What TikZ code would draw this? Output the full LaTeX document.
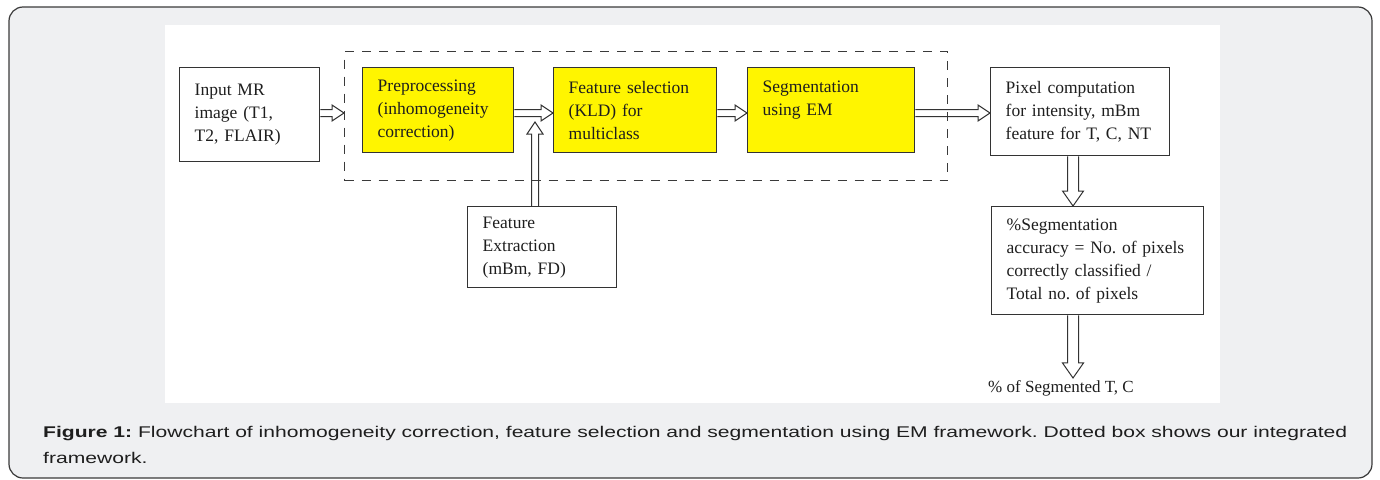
\documentclass[tikz,border=0pt]{standalone}
\usepackage{fontspec}
\setmainfont{Liberation Serif}
\newfontfamily\capfont{Liberation Sans}[FakeStretch=1.36]
\usepackage{tikz}
\usetikzlibrary{calc}
\definecolor{panelgray}{HTML}{EFF0F2}
\definecolor{framegray}{HTML}{3A3A3A}
\definecolor{boxline}{HTML}{333333}
\definecolor{stepyellow}{HTML}{FFF500}
\definecolor{inkgray}{HTML}{1E1E1E}
\frenchspacing

\begin{document}
\begin{tikzpicture}[x=1pt, y=-1pt,
        box/.style={draw=boxline, line width=1.4pt, fill=white, anchor=north west,
            align=left, inner xsep=15pt, inner ysep=4pt, text=inkgray,
            font=\fontsize{17.5}{23}\selectfont},
        stage/.style={box, fill=stepyellow},
        grp/.style={draw=framegray, line width=1.4pt, dash pattern=on 9pt off 8pt,
            anchor=north west, inner sep=0pt},
        hollow/.style n args={3}{draw=boxline, line width=1pt, line join=miter, to path={
            ($(\tikztotarget)!#3!(\tikztostart)$) coordinate (tb)
            ($(\tikztostart)!#1!90:(\tikztotarget)$)
            -- ($(tb)!#1!-90:(\tikztostart)$) -- ($(tb)!#2!-90:(\tikztostart)$)
            -- (\tikztotarget)
            -- ($(tb)!#2!90:(\tikztostart)$) -- ($(tb)!#1!90:(\tikztostart)$)
            -- ($(\tikztostart)!#1!-90:(\tikztotarget)$)}},
        flow/.style={hollow={3.5pt}{8pt}{12pt}},
        drop/.style={hollow={5.5pt}{10.5pt}{15pt}}]
        \useasboundingbox (0,0) rectangle (1380,479);
        \draw[fill=panelgray, draw=framegray, line width=1.2pt, rounded corners=14pt]
            (9,7) rectangle (1372,478);
        \fill[white] (165,25) rectangle (1220,403);

        \node[grp, minimum width=603pt, minimum height=129pt] (grp) at (344,51) {};

        \node[box, text width=110pt, minimum height=94pt] (inp) at (179,67)
            {Input MR\\ image (T1,\\ T2, FLAIR)};
        \node[stage, text width=121pt, minimum height=85pt] (prep) at (362,67)
            {Preprocessing\\ (inhomogeneity\\ correction)};
        \node[stage, text width=133pt, minimum height=85pt] (fsel) at (553,67)
            {Feature selection\\ (KLD) for\\ multiclass};
        \node[stage, text width=137pt, minimum height=85pt] (seg) at (747,67)
            {Segmentation\\ using EM\\ \mbox{}};
        \node[box, text width=149pt, minimum height=88pt] (pix) at (990,67)
            {Pixel computation\\ for intensity, mBm\\ feature for T, C, NT};
        \node[box, text width=119pt, minimum height=81pt] (fext) at (467,206)
            {Feature\\ Extraction\\ (mBm, FD)};
        \node[box, text width=182pt, minimum height=108pt] (acc) at (991,206)
            {\%Segmentation\\ accuracy = No. of pixels\\ correctly classified /\\ Total no. of pixels};
        \node[text=inkgray, font=\fontsize{17}{20}\selectfont, inner sep=2pt] (out) at (1061,388)
            {\% of Segmented T, C};

        \coordinate (row) at (0,113);
        \coordinate (join) at (535,122);
        \coordinate (vcol) at (1073,0);

        \draw[flow] (inp.east |- row) to (grp.west |- row);
        \draw[flow] (prep.east |- row) to (fsel.west |- row);
        \draw[flow] (fsel.east |- row) to (seg.west |- row);
        \draw[flow] (seg.east |- row) to (pix.west |- row);
        \draw[flow] (fext.north -| join) to (join);
        \draw[drop] (pix.south -| vcol) to (acc.north -| vcol);
        \draw[drop] (acc.south -| vcol) to (out.north -| vcol);

        \node[anchor=north west, align=left, text=inkgray, inner sep=0pt,
            font=\capfont\fontsize{15.5}{26}\selectfont] (cap) at (43,426)
            {\textbf{Figure 1:} Flowchart of inhomogeneity correction, feature selection and segmentation using EM framework. Dotted box shows our integrated\\ framework.};
\end{tikzpicture}
\end{document}
